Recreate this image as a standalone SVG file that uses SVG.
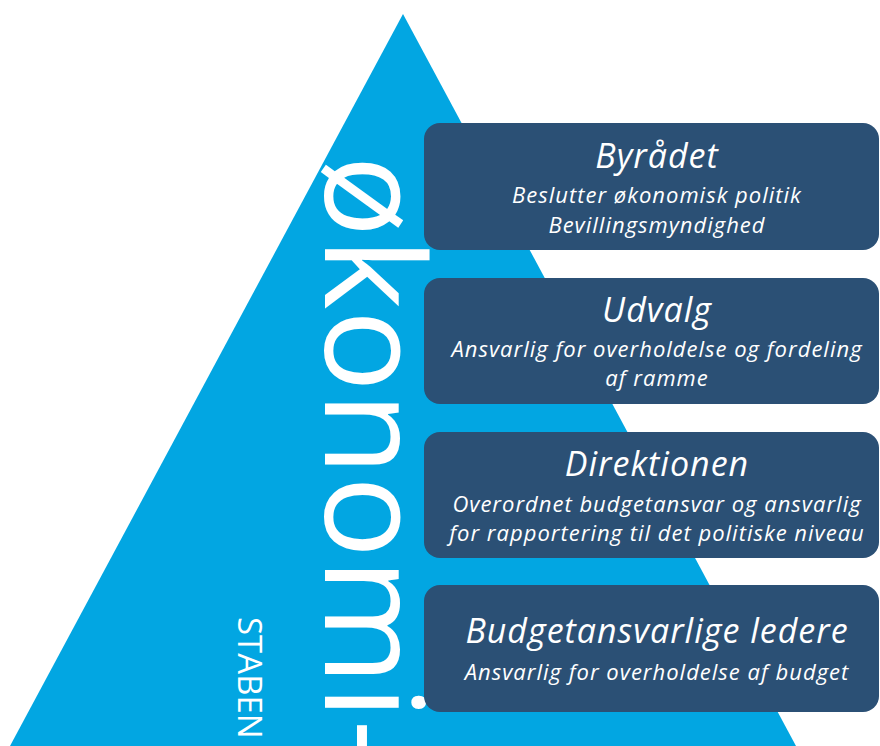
<svg xmlns="http://www.w3.org/2000/svg" width="880" height="746" viewBox="0 0 880 746">
<style>
.box{fill:#2B5075}
.t{font-family:"Open Sans","Noto Sans","Liberation Sans",sans-serif;font-style:italic;fill:#fff;text-anchor:middle}
.h{font-size:34px;letter-spacing:1px}
.s{font-size:22px;letter-spacing:1px}
.v{font-family:"Open Sans","Noto Sans","Liberation Sans",sans-serif;font-weight:400;fill:#fff}
</style>
<rect width="880" height="746" fill="#fff"/>
<polygon id="pyramid" points="403,14 10,746 796,746" fill="#02A6E2"/>
<g id="okonomi"><text class="v" font-size="137" transform="translate(325,155) rotate(90)">økonomi-</text></g>
<g id="staben"><text class="v" font-size="33" transform="translate(238,617) rotate(90)">STABEN</text></g>
<g id="byraadet">
<rect class="box" x="424" y="123" width="455" height="127" rx="16"/>
<text class="t h" x="657" y="168">Byrådet</text>
<text class="t s" x="657" y="203">Beslutter økonomisk politik</text>
<text class="t s" x="657" y="233">Bevillingsmyndighed</text>
</g>
<g id="udvalg">
<rect class="box" x="424" y="278" width="455" height="126" rx="16"/>
<text class="t h" x="657" y="322">Udvalg</text>
<text class="t s" x="657" y="357">Ansvarlig for overholdelse og fordeling</text>
<text class="t s" x="657" y="386">af ramme</text>
</g>
<g id="direktionen">
<rect class="box" x="424" y="432" width="455" height="126" rx="16"/>
<text class="t h" x="657" y="476">Direktionen</text>
<text class="t s" x="657" y="512">Overordnet budgetansvar og ansvarlig</text>
<text class="t s" x="657" y="541">for rapportering til det politiske niveau</text>
</g>
<g id="ledere">
<rect class="box" x="424" y="585" width="455" height="127" rx="16"/>
<text class="t h" x="657" y="643">Budgetansvarlige ledere</text>
<text class="t s" x="657" y="680">Ansvarlig for overholdelse af budget</text>
</g>
<g id="connectors"/>
</svg>
